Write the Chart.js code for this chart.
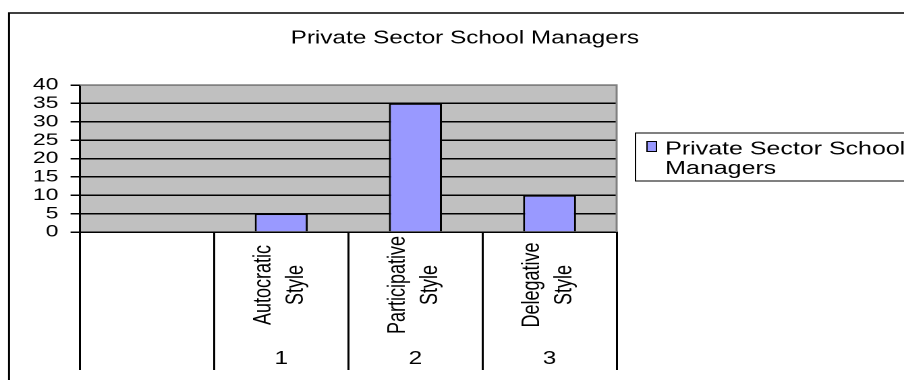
<!DOCTYPE html>
<html lang="en">
  <head>
    <meta charset="UTF-8">
    <script src="https://cdn.jsdelivr.net/npm/chart.js"></script>
    <style>
      html, body { margin: 0; padding: 0; background: #fff; overflow: hidden; }
      /* the original picture is stretched sideways, so the chart is drawn narrow and widened */
      .wrap {
        position: relative;
        width: 670px;
        height: 380px;
        transform: scaleX(1.3493);
        transform-origin: 0 0;
      }
    </style>
  </head>
  <body>
    <div class="wrap">
      <canvas id="chart"></canvas>
    </div>
    <script>
      const chartTitle = 'Private Sector School Managers';
      const seriesName = 'Private Sector School Managers';
      const categories = ['', 'Autocratic Style', 'Participative Style', 'Delegative Style'];
      const groups = ['', '1', '2', '3'];
      const values = [null, 5, 35, 10];
      const yMax = 40;
      const yStep = 5;

      const FONT = "'Liberation Sans', Arial, sans-serif";
      const BAR = '#9999ff';

      const extras = {
        id: 'extras',
        beforeDraw(chart) {
          const { ctx, chartArea: a } = chart;
          ctx.save();
          ctx.fillStyle = '#c0c0c0';
          ctx.fillRect(a.left, a.top, a.right - a.left, a.bottom - a.top);
          ctx.restore();
        },
        afterDraw(chart) {
          const { ctx, chartArea: a } = chart;
          const x = chart.scales.x;
          ctx.save();

          // grey frame on top and right of plot
          ctx.strokeStyle = '#808080';
          ctx.lineWidth = 1.5;
          ctx.beginPath();
          ctx.moveTo(a.left, a.top);
          ctx.lineTo(a.right, a.top);
          ctx.lineTo(a.right, a.bottom);
          ctx.stroke();

          // outer border
          ctx.strokeStyle = '#000';
          ctx.lineWidth = 1.5;
          ctx.strokeRect(6.7, 13, 700, 400);

          // title
          ctx.fillStyle = '#000';
          ctx.font = '18px ' + FONT;
          ctx.textAlign = 'center';
          ctx.textBaseline = 'alphabetic';
          ctx.fillText(chartTitle, 344.5, 43.5);

          // legend
          ctx.lineWidth = 1;
          ctx.strokeRect(471, 133, 300, 48);
          ctx.fillStyle = BAR;
          ctx.fillRect(479.5, 141.5, 7, 10);
          ctx.strokeRect(479.5, 141.5, 7, 10);
          ctx.fillStyle = '#000';
          ctx.textAlign = 'left';
          ctx.font = '18.5px ' + FONT;
          const words = seriesName.split(' ');
          ctx.fillText(words.slice(0, 3).join(' '), 493, 154.5);
          ctx.fillText(words.slice(3).join(' '), 493, 174);

          // category labels, rotated, two lines each
          categories.forEach((c, i) => {
            const cx = x.getPixelForValue(i);
            if (c) {
              const lines = c.split(' ');
              ctx.save();
              ctx.translate(cx, 285);
              ctx.rotate(-Math.PI / 2);
              ctx.font = '18px ' + FONT;
              ctx.textAlign = 'center';
              ctx.textBaseline = 'middle';
              ctx.fillText(lines[0], 0, -13);
              ctx.fillText(lines[1], 0, 11);
              ctx.restore();
            }
            if (groups[i]) {
              ctx.font = '18px ' + FONT;
              ctx.textAlign = 'center';
              ctx.textBaseline = 'middle';
              ctx.fillText(groups[i], cx, 359);
            }
          });
          ctx.restore();
        }
      };

      new Chart(document.getElementById('chart'), {
        type: 'bar',
        data: {
          labels: categories,
          datasets: [{
            label: seriesName,
            data: values,
            backgroundColor: BAR,
            borderColor: '#000',
            borderWidth: 1.5,
            barPercentage: 0.395,
            categoryPercentage: 1
          }]
        },
        plugins: [extras],
        options: {
          responsive: true,
          maintainAspectRatio: false,
          animation: false,
          devicePixelRatio: 2,
          layout: { padding: { left: 0, top: 85, right: 213, bottom: 0 } },
          plugins: {
            legend: { display: false },
            title: { display: false },
            tooltip: { enabled: false }
          },
          scales: {
            x: {
              offset: true,
              grid: {
                offset: true,
                drawOnChartArea: false,
                drawTicks: true,
                tickLength: 138,
                color: '#000',
                lineWidth: 1.5
              },
              border: { display: true, color: '#000', width: 1.5 },
              ticks: { display: false },
              afterFit(s) { s.height = 148; }
            },
            y: {
              min: 0,
              max: yMax,
              grid: {
                color: c => (c.tick && c.tick.value === yMax ? '#808080' : '#000'),
                tickColor: '#000',
                tickLength: 7,
                lineWidth: 1.5
              },
              border: { display: true, color: '#000', width: 1.5 },
              ticks: {
                stepSize: yStep,
                autoSkip: false,
                color: '#000',
                padding: 9,
                font: { family: FONT, size: 17 }
              },
              afterFit(s) { s.width = 59.3; }
            }
          }
        }
      });
    </script>
  </body>
</html>
